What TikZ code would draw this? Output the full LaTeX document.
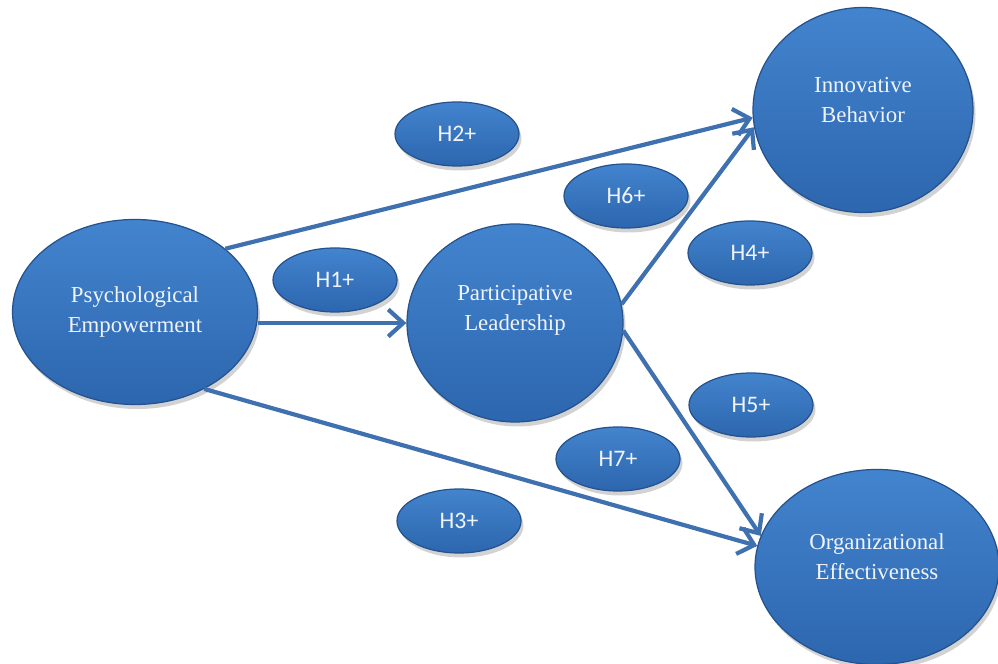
\documentclass[tikz,border=0pt]{standalone}
\usepackage{fontspec}
\setmainfont{Liberation Serif}
\newfontfamily\hfont{Carlito}
\usetikzlibrary{arrows.meta, positioning, shapes.geometric, shadows}

\definecolor{ballhi}{HTML}{4384CE}
\definecolor{balllo}{HTML}{2C66AE}
\definecolor{ballrim}{HTML}{25528C}
\definecolor{txt}{HTML}{F0F4FA}
\definecolor{linecol}{HTML}{3F70B0}

\begin{document}
\begin{tikzpicture}[x=0.2mm, y=-0.2mm,
    ball/.style={ellipse, inner sep=0pt, top color=ballhi, bottom color=balllo, draw=ballrim, line width=0.7pt,
      drop shadow={opacity=0.25, shadow xshift=0.5mm, shadow yshift=-0.9mm, fill=black!70}},
    ctxt/.style={font=\fontsize{13}{17}\selectfont, text=txt, align=center},
    hyp/.style={ball, minimum width=24.8mm, minimum height=12.8mm, font=\hfont\fontsize{13.5}{15}\selectfont, text=txt},
    arr/.style={-{Straight Barb[length=3mm, width=5.4mm]}, line width=2.4pt, draw=linecol}]
\useasboundingbox (0,0) rectangle (998,664);

% constructs
\node[ball, minimum width=49mm, minimum height=37mm,
  label={[ctxt]center:{Psychological\\Empowerment}}] (pe) at (135,312) {};
\node[ball, minimum width=43.2mm, minimum height=39.6mm,
  label={[ctxt, yshift=2.6mm]center:{Participative\\Leadership}}] (pl) at (515,323) {};
\node[ball, minimum width=44mm, minimum height=41mm,
  label={[ctxt, yshift=2mm]center:{Innovative\\Behavior}}] (ib) at (863,110) {};
\node[ball, minimum width=48.8mm, minimum height=39mm,
  label={[ctxt, yshift=2mm]center:{Organizational\\Effectiveness}}] (oe) at (877,567) {};

% hypotheses
\node[hyp] (h1) at (335,280) {H1+};
\node[hyp] (h2) at (457,134) {H2+};
\node[hyp] (h3) at (459,521) {H3+};
\node[hyp] (h4) at (750,253) {H4+};
\node[hyp] (h5) at (751,405) {H5+};
\node[hyp] (h6) at (626,196) {H6+};
\node[hyp] (h7) at (618,459) {H7+};

% paths
\draw[arr] (pe.35) -- (ib.184);
\draw[arr] (pe.east |- pl.west) -- (pl.west);
\draw[arr] (pe.-48) -- (oe.170);
\draw[arr] (pl.10) -- (ib.189);
\draw[arr] (pl.-4) -- (oe.165);
\end{tikzpicture}
\end{document}
